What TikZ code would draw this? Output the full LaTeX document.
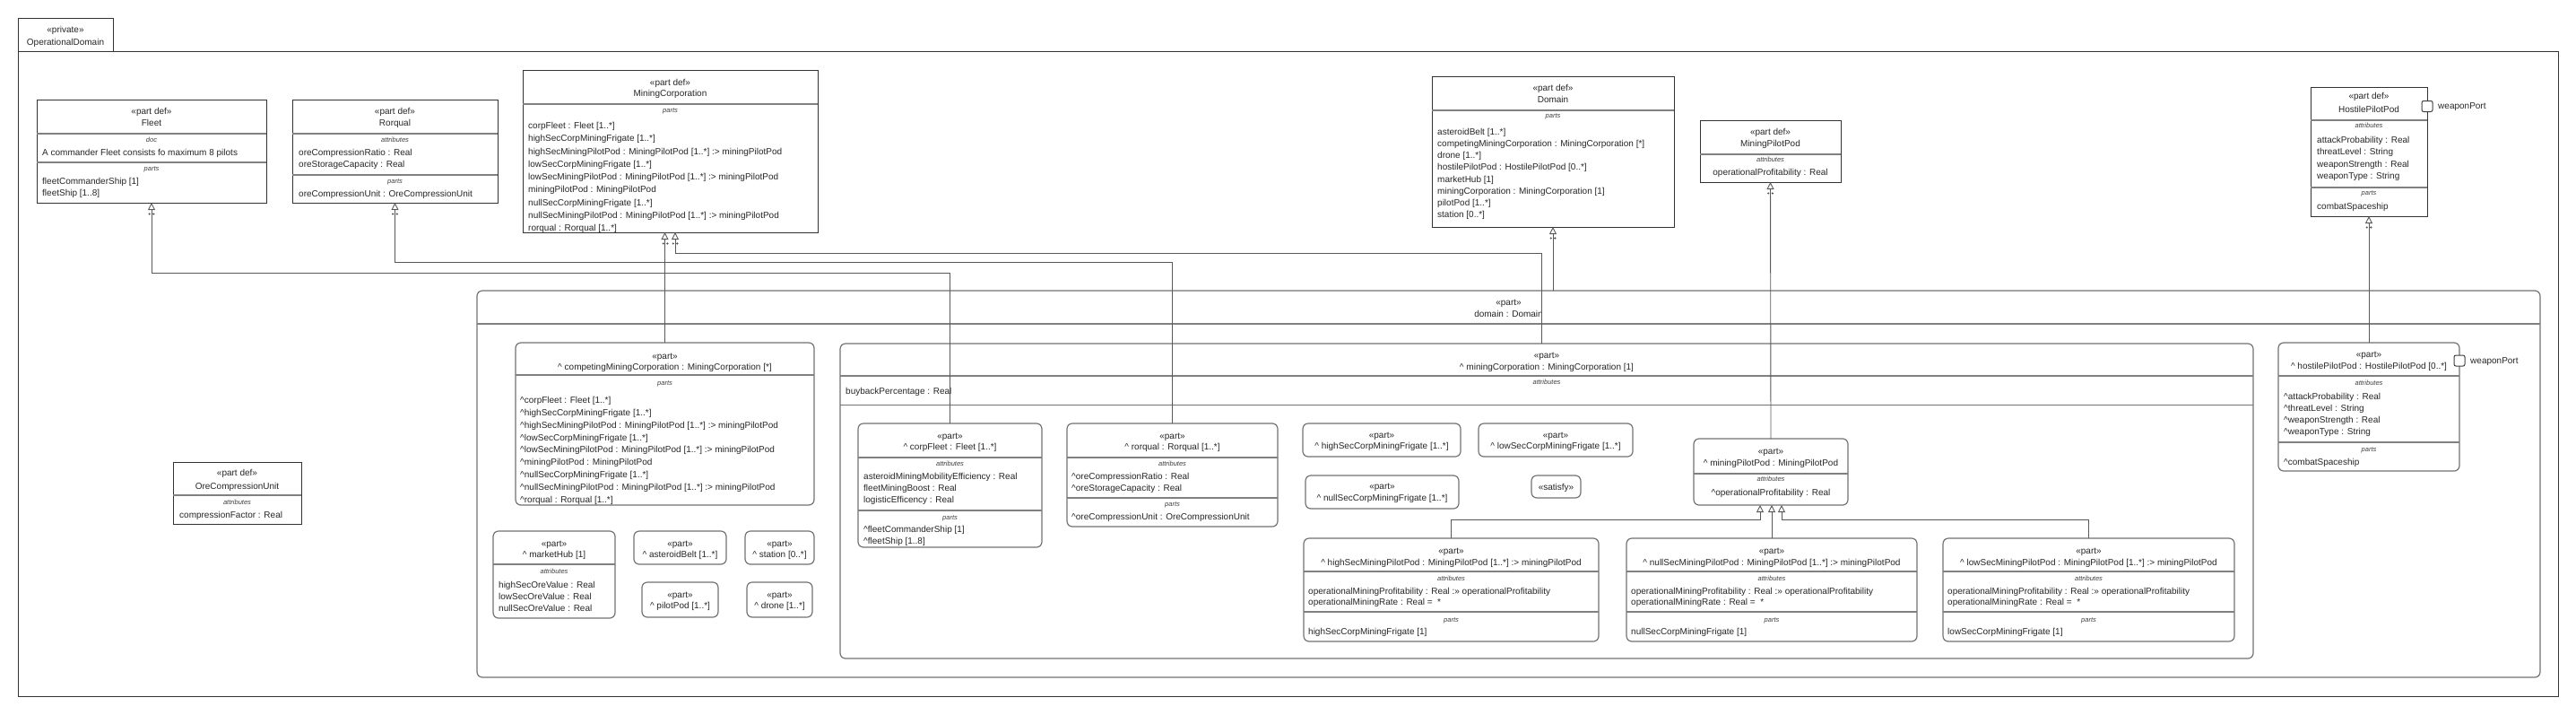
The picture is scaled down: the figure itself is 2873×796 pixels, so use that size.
\documentclass[tikz,border=0pt]{standalone}
\usepackage{fontspec}
\setmainfont{Liberation Sans}
\usetikzlibrary{arrows.meta,calc}
\newcommand\crt{\textasciicircum}
\newcount\tcnt
\newcommand\mkbox[6]{\node[#1, anchor=north west, minimum width={(#5-#3)*1pt}, minimum height={(#6-#4)*1pt}] (#2) at (#3,#4) {};}
\newcommand\ctext[3]{\global\advance\tcnt by 1 \node[tx, anchor=base] (t\the\tcnt) at (#1,#2+3.6) {#3};}
\newcommand\clab[3]{\global\advance\tcnt by 1 \node[lbl, anchor=base] (t\the\tcnt) at (#1,#2+2.7) {#3};}
\newcommand\ltext[4]{\foreach \lnitem [count=\lidx from 0] in {#4} {\global\advance\tcnt by 1 \node[tx, anchor=base west] (t\the\tcnt) at (#1,{#2+3.6+\lidx*#3}) {\lnitem};}}
\newcommand\hsep[3]{\draw[sepline] (#1,#3) -- (#2,#3);}
\newcommand\tdots[1]{\fill[black!70] ($(#1)+(-2.3,12.5)$) circle[radius=1.2pt]; \fill[black!70] ($(#1)+(2.3,12.5)$) circle[radius=1.2pt];}
\tikzset{
  frame/.style={draw=black!80, line width=0.9pt, inner sep=0, outer sep=0},
  defbox/.style={draw=black!80, line width=0.9pt, fill=white, inner sep=0, outer sep=0},
  partbox/.style={draw=black!55, line width=1.2pt, rounded corners=6pt, fill=white, inner sep=0, outer sep=0},
  port/.style={draw=black!75, line width=1pt, fill=white, rounded corners=2pt, minimum size=12pt, inner sep=0, outer sep=0},
  sepline/.style={draw=black!50, line width=1.8pt},
  thinsep/.style={draw=black!55, line width=0.8pt},
  tx/.style={inner sep=0, font=\fontsize{10}{12}\selectfont, text=black!85},
  lbl/.style={inner sep=0, font=\fontsize{7.5}{9}\selectfont\itshape, text=black!75},
  gen/.style={draw=black!65, line width=0.9pt, -{Triangle[open, length=8pt, width=8pt, line width=0.9pt]}},
  sub/.style={draw=black!65, line width=0.9pt, -{Triangle[open, length=8pt, width=8pt, line width=0.9pt]}}
}
\begin{document}
\begin{tikzpicture}[x=1pt, y=-1pt]
\useasboundingbox (0,0) rectangle (2873,796);
% package
\mkbox{frame}{pkg}{20}{57}{2853}{776}
\mkbox{defbox}{tab}{20}{20}{126}{57}
\ctext{73}{33}{«private»}
\ctext{73}{47}{OperationalDomain}
% Fleet
\mkbox{defbox}{fleet}{41}{111}{297}{226}
\ctext{169}{124}{«part def»}
\ctext{169}{137}{Fleet}
\hsep{41}{297}{149}
\clab{169}{156}{doc}
\ltext{47}{170}{12}{{A commander Fleet consists fo maximum 8 pilots}}
\hsep{41}{297}{181}
\clab{169}{188}{parts}
\ltext{47}{202}{12.5}{{fleetCommanderShip [1]},{fleetShip [1..8]}}
% Rorqual
\mkbox{defbox}{rorq}{326}{111}{555}{226}
\ctext{440.5}{124}{«part def»}
\ctext{440.5}{137}{Rorqual}
\hsep{326}{555}{149}
\clab{440.5}{156}{attributes}
\ltext{333}{170}{13}{{oreCompressionRatio : Real},{oreStorageCapacity : Real}}
\hsep{326}{555}{195}
\clab{440.5}{202}{parts}
\ltext{333}{216}{13}{{oreCompressionUnit : OreCompressionUnit}}
% MiningCorporation
\mkbox{defbox}{mcdef}{583}{78}{912}{259}
\ctext{747.5}{92}{«part def»}
\ctext{747.5}{104}{MiningCorporation}
\hsep{583}{912}{116}
\clab{747.5}{123}{parts}
\ltext{589}{140}{14.25}{{corpFleet : Fleet [1..*]},{highSecCorpMiningFrigate [1..*]},{highSecMiningPilotPod : MiningPilotPod [1..*] :> miningPilotPod},{lowSecCorpMiningFrigate [1..*]},{lowSecMiningPilotPod : MiningPilotPod [1..*] :> miningPilotPod},{miningPilotPod : MiningPilotPod},{nullSecCorpMiningFrigate [1..*]},{nullSecMiningPilotPod : MiningPilotPod [1..*] :> miningPilotPod},{rorqual : Rorqual [1..*]}}
% Domain
\mkbox{defbox}{domdef}{1597}{85}{1867}{253}
\ctext{1732}{98}{«part def»}
\ctext{1732}{111}{Domain}
\hsep{1597}{1867}{123}
\clab{1732}{129}{parts}
\ltext{1603}{147}{13.1}{{asteroidBelt [1..*]},{competingMiningCorporation : MiningCorporation [*]},{drone [1..*]},{hostilePilotPod : HostilePilotPod [0..*]},{marketHub [1]},{miningCorporation : MiningCorporation [1]},{pilotPod [1..*]},{station [0..*]}}
% MiningPilotPod
\mkbox{defbox}{mppdef}{1896}{134}{2053}{203}
\ctext{1974.5}{147}{«part def»}
\ctext{1974.5}{160}{MiningPilotPod}
\hsep{1896}{2053}{172}
\clab{1974.5}{178}{attributes}
\ctext{1974.5}{192}{operationalProfitability : Real}
% HostilePilotPod
\mkbox{defbox}{hppdef}{2577}{97}{2707}{241}
\ctext{2642}{107}{«part def»}
\ctext{2642}{122}{HostilePilotPod}
\hsep{2577}{2707}{134}
\clab{2642}{140}{attributes}
\ltext{2584}{156}{13.3}{{attackProbability : Real},{threatLevel : String},{weaponStrength : Real},{weaponType : String}}
\hsep{2577}{2707}{209}
\clab{2642}{215}{parts}
\ltext{2584}{230}{13}{{combatSpaceship}}
\node[port] (hdport) at (2707,118.5) {};
\node[tx, anchor=west] (hdportlbl) at (2719,119) {weaponPort};
% OreCompressionUnit
\mkbox{defbox}{ocu}{193}{515}{336}{584}
\ctext{264.5}{527}{«part def»}
\ctext{264.5}{542}{OreCompressionUnit}
\hsep{193}{336}{552}
\clab{264.5}{560}{attributes}
\ltext{200}{574}{13}{{compressionFactor : Real}}
% domain part
\mkbox{partbox}{dom}{532}{324}{2833}{755}
\ctext{1682.5}{337}{«part»}
\ctext{1682.5}{350}{domain : Domain}
\hsep{532}{2833}{361}
% competingMiningCorporation
\mkbox{partbox}{cmc}{575}{382}{908}{563}
\ctext{741.5}{397}{«part»}
\ctext{741.5}{409}{\crt\ competingMiningCorporation : MiningCorporation [*]}
\hsep{575}{908}{418}
\clab{741.5}{427}{parts}
\ltext{580}{446}{13.8}{{\crt corpFleet : Fleet [1..*]},{\crt highSecCorpMiningFrigate [1..*]},{\crt highSecMiningPilotPod : MiningPilotPod [1..*] :> miningPilotPod},{\crt lowSecCorpMiningFrigate [1..*]},{\crt lowSecMiningPilotPod : MiningPilotPod [1..*] :> miningPilotPod},{\crt miningPilotPod : MiningPilotPod},{\crt nullSecCorpMiningFrigate [1..*]},{\crt nullSecMiningPilotPod : MiningPilotPod [1..*] :> miningPilotPod},{\crt rorqual : Rorqual [1..*]}}
% small parts
\mkbox{partbox}{mkt}{550}{592}{686}{689}
\ctext{618}{606}{«part»}
\ctext{618}{618}{\crt\ marketHub [1]}
\hsep{550}{686}{629}
\clab{618}{637}{attributes}
\ltext{556}{652}{12.7}{{highSecOreValue : Real},{lowSecOreValue : Real},{nullSecOreValue : Real}}
\mkbox{partbox}{ast}{707}{592}{810}{629}
\ctext{758.5}{606}{«part»}
\ctext{758.5}{618}{\crt\ asteroidBelt [1..*]}
\mkbox{partbox}{sta}{831}{592}{908}{629}
\ctext{869.5}{606}{«part»}
\ctext{869.5}{618}{\crt\ station [0..*]}
\mkbox{partbox}{pil}{716}{649}{801}{688}
\ctext{758.5}{663}{«part»}
\ctext{758.5}{675}{\crt\ pilotPod [1..*]}
\mkbox{partbox}{dro}{833}{649}{906}{688}
\ctext{869.5}{663}{«part»}
\ctext{869.5}{675}{\crt\ drone [1..*]}
% miningCorporation part
\mkbox{partbox}{mcp}{937}{383}{2513}{734}
\ctext{1725}{396}{«part»}
\ctext{1725}{409}{\crt\ miningCorporation : MiningCorporation [1]}
\hsep{937}{2513}{419}
\clab{1725}{426}{attributes}
\ltext{943}{436}{13}{{buybackPercentage : Real}}
\draw[thinsep] (937,451) -- (2513,451);
% corpFleet
\mkbox{partbox}{cfp}{957}{472}{1162}{610}
\ctext{1059.5}{486}{«part»}
\ctext{1059.5}{498}{\crt\ corpFleet : Fleet [1..*]}
\hsep{957}{1162}{510}
\clab{1059.5}{517}{attributes}
\ltext{963}{531}{13}{{asteroidMiningMobilityEfficiency : Real},{fleetMiningBoost : Real},{logisticEfficency : Real}}
\hsep{957}{1162}{569}
\clab{1059.5}{577}{parts}
\ltext{963}{590}{13}{{\crt fleetCommanderShip [1]},{\crt fleetShip [1..8]}}
% rorqual part
\mkbox{partbox}{rqp}{1190}{472}{1425}{587}
\ctext{1307.5}{486}{«part»}
\ctext{1307.5}{498}{\crt\ rorqual : Rorqual [1..*]}
\hsep{1190}{1425}{510}
\clab{1307.5}{517}{attributes}
\ltext{1195}{531}{13}{{\crt oreCompressionRatio : Real},{\crt oreStorageCapacity : Real}}
\hsep{1190}{1425}{555}
\clab{1307.5}{562}{parts}
\ltext{1195}{576}{13}{{\crt oreCompressionUnit : OreCompressionUnit}}
% frigates
\mkbox{partbox}{hsf}{1453}{472}{1629}{509}
\ctext{1541}{485}{«part»}
\ctext{1541}{497}{\crt\ highSecCorpMiningFrigate [1..*]}
\mkbox{partbox}{lsf}{1649}{472}{1821}{509}
\ctext{1735}{485}{«part»}
\ctext{1735}{497}{\crt\ lowSecCorpMiningFrigate [1..*]}
\mkbox{partbox}{nsf}{1456}{530}{1627}{567}
\ctext{1541.5}{542}{«part»}
\ctext{1541.5}{555}{\crt\ nullSecCorpMiningFrigate [1..*]}
\mkbox{partbox}{sat}{1708}{530}{1763}{555}
\ctext{1735.5}{542.5}{«satisfy»}
% miningPilotPod part
\mkbox{partbox}{mpp}{1889}{489}{2061}{563}
\ctext{1975}{503}{«part»}
\ctext{1975}{516}{\crt\ miningPilotPod : MiningPilotPod}
\hsep{1889}{2061}{528}
\clab{1975}{534}{attributes}
\ctext{1975}{549}{\crt operationalProfitability : Real}
% pilot pods
\mkbox{partbox}{hsm}{1454}{600}{1783}{715}
\ctext{1618.5}{614}{«part»}
\ctext{1618.5}{627}{\crt\ highSecMiningPilotPod : MiningPilotPod [1..*] :> miningPilotPod}
\hsep{1454}{1783}{637}
\clab{1618.5}{645}{attributes}
\ltext{1459}{659}{11.5}{{operationalMiningProfitability : Real :>> operationalProfitability},{operationalMiningRate : Real =\ \ *}}
\hsep{1454}{1783}{682}
\clab{1618.5}{691}{parts}
\ltext{1459}{704}{13}{{highSecCorpMiningFrigate [1]}}
\mkbox{partbox}{nsm}{1814}{600}{2138}{715}
\ctext{1976}{614}{«part»}
\ctext{1976}{627}{\crt\ nullSecMiningPilotPod : MiningPilotPod [1..*] :> miningPilotPod}
\hsep{1814}{2138}{637}
\clab{1976}{645}{attributes}
\ltext{1819}{659}{11.5}{{operationalMiningProfitability : Real :>> operationalProfitability},{operationalMiningRate : Real =\ \ *}}
\hsep{1814}{2138}{682}
\clab{1976}{691}{parts}
\ltext{1819}{704}{13}{{nullSecCorpMiningFrigate [1]}}
\mkbox{partbox}{lsm}{2167}{600}{2492}{715}
\ctext{2329.5}{614}{«part»}
\ctext{2329.5}{627}{\crt\ lowSecMiningPilotPod : MiningPilotPod [1..*] :> miningPilotPod}
\hsep{2167}{2492}{637}
\clab{2329.5}{645}{attributes}
\ltext{2172}{659}{11.5}{{operationalMiningProfitability : Real :>> operationalProfitability},{operationalMiningRate : Real =\ \ *}}
\hsep{2167}{2492}{682}
\clab{2329.5}{691}{parts}
\ltext{2172}{704}{13}{{lowSecCorpMiningFrigate [1]}}
% hostilePilotPod part
\mkbox{partbox}{hpp}{2541}{382}{2743}{525}
\ctext{2642}{395}{«part»}
\ctext{2642}{408}{\crt\ hostilePilotPod : HostilePilotPod [0..*]}
\hsep{2541}{2743}{419}
\clab{2642}{427}{attributes}
\ltext{2547}{442}{13}{{\crt attackProbability : Real},{\crt threatLevel : String},{\crt weaponStrength : Real},{\crt weaponType : String}}
\hsep{2541}{2743}{493}
\clab{2642}{501}{parts}
\ltext{2547}{515}{13}{{\crt combatSpaceship}}
\node[port] (hpport) at (2743,402) {};
\node[tx, anchor=west] (hpportlbl) at (2755,403) {weaponPort};
% connectors
\coordinate (yFleet) at (0,304);
\coordinate (yRorq) at (0,292);
\coordinate (yMC) at (0,282);
\coordinate (ySub) at (0,579);
\coordinate (mcpin) at ([xshift=-6pt]mcp.north);
\coordinate (mctop) at ([xshift=5.5pt]mcdef.south);
\coordinate (mcbot) at ([xshift=-5.5pt]mcdef.south);
\coordinate (mppL) at ([xshift=-12pt]mpp.south);
\coordinate (mppR) at ([xshift=12pt]mpp.south);
\draw[gen] (cfp.north) -- (cfp.north |- yFleet) -| (fleet.south);
\draw[gen] (rqp.north) -- (rqp.north |- yRorq) -| (rorq.south);
\draw[gen] (cmc.north) -- (cmc.north |- mcbot);
\draw[gen] (mcpin) -- (mcpin |- yMC) -| (mctop);
\draw[gen] (dom.north -| domdef.south) -- (domdef.south);
\draw[gen] (mpp.north) -- (mppdef.south);
\draw[gen] (hpp.north) -- (hppdef.south);
\tdots{fleet.south}
\tdots{rorq.south}
\tdots{mctop}
\tdots{mcbot}
\tdots{domdef.south}
\tdots{mppdef.south}
\tdots{hppdef.south}
\draw[sub] (hsm.north) -- (hsm.north |- ySub) -| (mppL);
\draw[sub] (nsm.north) -- (nsm.north |- mpp.south);
\draw[sub] (lsm.north) -- (lsm.north |- ySub) -| (mppR);
\end{tikzpicture}
\end{document}
